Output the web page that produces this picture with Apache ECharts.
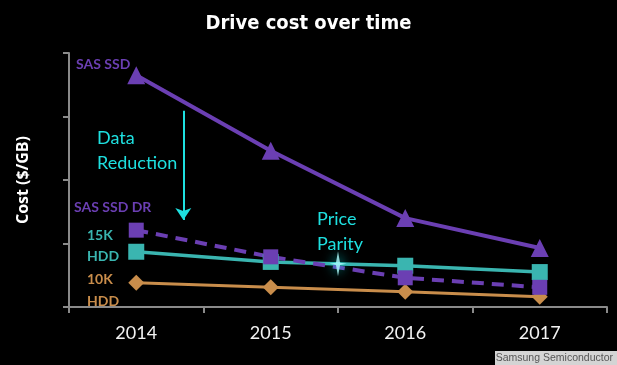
<!DOCTYPE html>
<html><head><meta charset="utf-8">
<script src="https://cdn.jsdelivr.net/npm/echarts@6/dist/echarts.min.js"></script>
<style>html,body{margin:0;padding:0;background:#000;}#c{width:617px;height:365px;}</style>
</head><body><div id="c"></div>
<script>
const years = ['2014','2015','2016','2017'];
const sasSsd = [3.65, 2.46, 1.40, 0.93];
const sasSsdDr = [1.21, 0.79, 0.46, 0.31];
const hdd15k = [0.87, 0.71, 0.65, 0.55];
const hdd10k = [0.38, 0.31, 0.24, 0.16];
const parityPoint = [[1.5, 0.68]];
const drArrow = [[0.35, 3.09], [0.35, 1.37]];
const yTicks = [0, 1, 2, 3, 4];

const PURPLE = '#6b3fb3', TEAL = '#3ab5b0', ORANGE = '#c98d4b', CYAN = '#1ee0e0';
const FONT = "Lato, 'Open Sans', sans-serif";
const chart = echarts.init(document.getElementById('c'));
chart.setOption({
  backgroundColor: '#000',
  animation: false,
  title: {
    text: 'Drive cost over time', left: 'center', top: 9,
    textStyle: {color: '#fff', fontSize: 20, fontWeight: 'bold', fontFamily: "'DejaVu Sans Condensed', 'Liberation Sans Narrow', sans-serif"}
  },
  grid: {left: 69, right: 10, top: 53, bottom: 58},
  xAxis: [{
    type: 'category', data: years, boundaryGap: true,
    axisLine: {lineStyle: {color: '#8a8a8a', width: 2}},
    axisTick: {show: true, length: 6, lineStyle: {color: '#8a8a8a', width: 2}},
    axisLabel: {color: '#f2f2f2', fontSize: 18, margin: 17, fontFamily: FONT}
  }, {
    type: 'value', min: -0.5, max: 3.5, show: false
  }],
  yAxis: {
    type: 'value', min: yTicks[0], max: yTicks[yTicks.length - 1], interval: 1,
    name: 'Cost ($/GB)', nameLocation: 'middle', nameGap: 38, nameRotate: 90,
    nameTextStyle: {color: '#fff', fontSize: 16, fontWeight: 'bold', fontFamily: "'Open Sans', sans-serif"},
    axisLine: {show: true, onZero: false, lineStyle: {color: '#8a8a8a', width: 2}},
    axisTick: {show: true, length: 6, lineStyle: {color: '#8a8a8a', width: 2}},
    axisLabel: {show: false},
    splitLine: {show: false}
  },
  series: [
    {name: '10K HDD', type: 'line', data: hdd10k, symbol: 'diamond', symbolSize: 16,
     lineStyle: {color: ORANGE, width: 3}, itemStyle: {color: ORANGE}},
    {name: '15K HDD', type: 'line', data: hdd15k, symbol: 'rect', symbolSize: 16,
     lineStyle: {color: TEAL, width: 3.5}, itemStyle: {color: TEAL}},
    {name: 'SAS SSD DR', type: 'line', data: sasSsdDr, symbol: 'rect', symbolSize: 15,
     lineStyle: {color: PURPLE, width: 4, type: [12, 8]}, itemStyle: {color: PURPLE}},
    {name: 'SAS SSD', type: 'line', data: sasSsd, symbol: 'triangle', symbolSize: 18,
     lineStyle: {color: PURPLE, width: 4}, itemStyle: {color: PURPLE}},
    {name: 'parity', type: 'scatter', xAxisIndex: 1, data: parityPoint, z: 5,
     symbol: 'path://M5,0 L6.2,10 L10,11 L6.2,12 L5,22 L3.8,12 L0,11 L3.8,10 Z', symbolSize: [17, 25],
     itemStyle: {color: '#b0ffff', shadowColor: '#00ffff', shadowBlur: 12},
     markLine: {
       silent: true, symbol: ['none', 'arrow'], symbolSize: [12, 12],
       label: {show: false},
       lineStyle: {color: CYAN, width: 2, type: 'solid'},
       data: [[{coord: drArrow[0]}, {coord: drArrow[1]}]]
     }}
  ],
  graphic: [
    {type: 'text', left: 76, top: 57, style: {text: 'SAS SSD', fill: PURPLE, font: "bold 14px Lato, sans-serif"}},
    {type: 'text', left: 97, top: 126, style: {text: 'Data\nReduction', fill: CYAN, font: "18px Lato, sans-serif", lineHeight: 25}},
    {type: 'text', left: 74, top: 200, style: {text: 'SAS SSD DR', fill: PURPLE, font: "bold 14px Lato, sans-serif"}},
    {type: 'text', left: 87, top: 225, style: {text: '15K\nHDD', fill: TEAL, font: "bold 14px Lato, sans-serif", lineHeight: 21}},
    {type: 'text', left: 87, top: 268, style: {text: '10K\nHDD', fill: ORANGE, font: "bold 14px Lato, sans-serif", lineHeight: 22}},
    {type: 'text', left: 317, top: 207, style: {text: 'Price\nParity', fill: CYAN, font: "18px Lato, sans-serif", lineHeight: 25}},
    {type: 'rect', right: 0, bottom: 0, shape: {width: 122, height: 14}, style: {fill: '#d4d4d4'}},
    {type: 'text', right: 4, bottom: 1, style: {text: 'Samsung Semiconductor', fill: '#555', font: "10.5px 'Liberation Sans', sans-serif"}}
  ]
});
</script></body></html>
